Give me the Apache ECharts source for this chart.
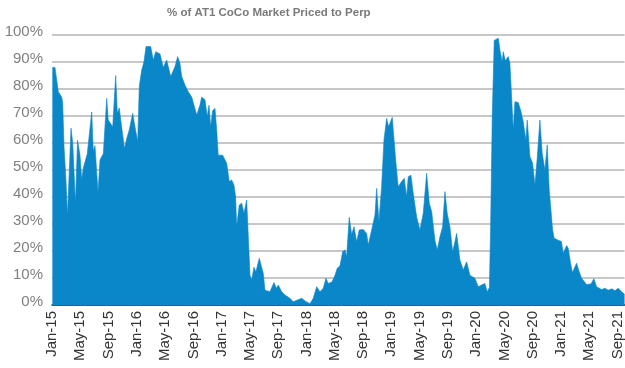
<!DOCTYPE html>
<html>
<head>
<meta charset="utf-8">
<script src="https://cdn.jsdelivr.net/npm/echarts@6/dist/echarts.min.js"></script>
<style>
html,body{margin:0;padding:0;background:#fff;}
#chart{width:625px;height:368px;}
</style>
</head>
<body>
<div id="chart"></div>
<script>
// Tick labels every 4 months, starting Jan-2015 (x = months since Jan-2015)
var tickLabels = ["Jan-15","May-15","Sep-15","Jan-16","May-16","Sep-16","Jan-17","May-17","Sep-17","Jan-18","May-18","Sep-18","Jan-19","May-19","Sep-19","Jan-20","May-20","Sep-20","Jan-21","May-21","Sep-21"];
var yTicks = [0,10,20,30,40,50,60,70,80,90,100];

// Observation positions, in months since Jan-2015
var monthPos = [
0.05,0.42,0.89,1.37,1.51,1.70,1.98,2.19,2.69,2.93,3.32,3.61,3.96,4.20,4.43,4.67,4.99,5.62,5.84,6.08,
6.51,6.79,7.03,7.26,7.74,7.96,8.20,8.59,9.01,9.24,9.52,9.72,10.25,10.57,10.93,11.41,11.74,12.12,12.35,12.69,
13.01,13.30,13.96,14.33,14.67,15.28,15.74,16.22,16.45,16.79,17.07,17.40,17.78,18.10,18.35,18.81,19.28,19.76,20.47,20.93,
21.17,21.64,21.97,22.21,22.45,22.73,23.06,23.30,23.52,23.76,24.14,24.71,25.08,25.42,25.74,25.98,26.12,26.49,26.83,27.16,
27.54,27.77,28.01,28.25,28.57,28.85,29.32,29.89,30.13,30.83,31.40,31.75,32.01,32.49,32.96,33.66,34.13,34.65,35.32,35.79,
36.49,36.96,37.44,37.91,38.37,38.76,39.08,39.60,40.03,40.35,40.74,41.12,41.44,41.68,42.05,42.39,42.72,43.10,43.46,44.03,
44.51,44.74,45.22,45.69,45.93,46.25,46.63,46.96,47.34,47.62,48.13,48.66,48.98,49.46,49.83,50.17,50.40,50.78,51.10,51.58,
52.05,52.52,53.00,53.37,53.71,54.17,54.50,54.88,55.26,55.59,55.91,56.29,56.68,57.00,57.24,57.71,58.18,58.66,59.12,59.83,
60.30,60.78,61.24,61.57,61.88,62.05,62.28,62.56,63.13,63.37,63.69,63.83,64.14,64.54,64.78,65.02,65.25,65.49,65.95,66.29,
66.66,67.04,67.23,67.61,67.99,68.32,68.64,69.02,69.35,69.73,70.06,70.34,70.82,71.05,71.61,72.07,72.32,72.80,73.03,73.37,
73.62,74.21,74.58,74.92,75.63,76.24,76.66,77.04,77.75,78.22,78.68,79.21,79.63,80.10,80.58,81.00
];

// % of AT1 CoCo market priced to perp at each observation
var pctPerp = [
88,88,79,77,75,58.6,46,33,65.5,60,37.5,61,55.5,46.5,50.7,50,56,71.5,57,59,
41.7,53.7,55,56,76.5,68.5,69,66,85,71,73,68.5,58,61.7,64.8,71,66,60.5,81,87,
90,95.7,95.7,90.7,93.8,93,88,90.7,90,84.6,84,88.3,92,89.5,84.6,81.5,79,77,70.4,74,
77,76,69.8,74,66,72,72.8,64.8,55.5,55,55.5,52.5,45.7,46.3,44.4,40,29,37,37.7,34,
38.9,39.5,11,9.3,14,12.3,17.3,11.7,5.5,4.9,8.3,6.2,7.4,4.9,3.7,2.5,1.2,1.8,2.5,1.5,
0.5,2.5,6.8,4.9,6.2,9.9,8,8.5,11,13.6,14.5,19.7,20.4,17.9,32.5,26,29,23.4,27.8,28,
26.5,22.2,27.8,33.3,43.2,30.9,43.8,61,69.1,66,69.5,52.5,43.8,45.7,46.9,40.1,47.5,48.1,41.4,32.7,
27.8,34,48.8,37.7,34.6,24,20.4,25.3,29,42,34,29,19.7,23.4,26.5,16.7,13,16,11,9.9,
6.8,7.4,8,4.9,6.5,29,69.8,98,98.8,94.4,90,93.8,90.5,92,89.5,77,64.8,75.3,75,72.2,
68,61,68.5,55,52.5,44.4,54.3,68.5,56.2,50,59.3,42.6,27.8,24.7,24,23.5,19.1,22,21,15.4,
12,15.5,12.3,9.9,7.6,7.8,9.7,6.8,5.7,6.2,5.5,6.0,5.3,6.2,4.9,4
];

var seriesData = monthPos.map(function (m, i) { return [m, pctPerp[i]]; });

var chart = echarts.init(document.getElementById('chart'), null, {renderer: 'canvas'});
chart.setOption({
  animation: false,
  backgroundColor: '#ffffff',
  title: {
    text: '% of AT1 CoCo Market Priced to Perp',
    left: 162,
    top: 2,
    textStyle: {
      fontFamily: 'Liberation Sans, Arial, sans-serif',
      fontSize: 11.5,
      fontWeight: 'bold',
      color: '#7a7a7a'
    }
  },
  grid: {left: 52, right: 0, top: 35, bottom: 63, containLabel: false},
  xAxis: {
    type: 'value',
    min: 0,
    max: 81,
    interval: 4,
    axisLine: {show: true, lineStyle: {color: '#333333', width: 1.5}},
    axisTick: {show: false},
    splitLine: {show: false},
    axisLabel: {
      rotate: 90,
      margin: 6,
      fontFamily: 'Liberation Sans, Arial, sans-serif',
      fontSize: 15,
      color: '#333333',
      showMaxLabel: false,
      formatter: function (v) {
        if (v % 4 !== 0) return '';
        var idx = v / 4;
        return tickLabels[idx] || '';
      }
    }
  },
  yAxis: {
    type: 'value',
    min: yTicks[0],
    max: yTicks[yTicks.length - 1],
    interval: 10,
    axisLine: {show: false},
    axisTick: {show: false},
    splitLine: {show: true, lineStyle: {color: '#b5b5b5', width: 1.5}},
    axisLabel: {
      margin: 9,
      fontFamily: 'Liberation Sans, Arial, sans-serif',
      fontSize: 15,
      color: '#808080',
      verticalAlign: 'bottom',
      lineHeight: 6,
      formatter: function (v) { return v + '%'; }
    }
  },
  series: [{
    type: 'line',
    data: seriesData,
    showSymbol: false,
    symbol: 'none',
    smooth: false,
    lineStyle: {width: 0.6, color: '#0a87c8'},
    itemStyle: {color: '#0a87c8'},
    areaStyle: {color: '#0a87c8', opacity: 1},
    z: 3
  }]
});
</script>
</body>
</html>
